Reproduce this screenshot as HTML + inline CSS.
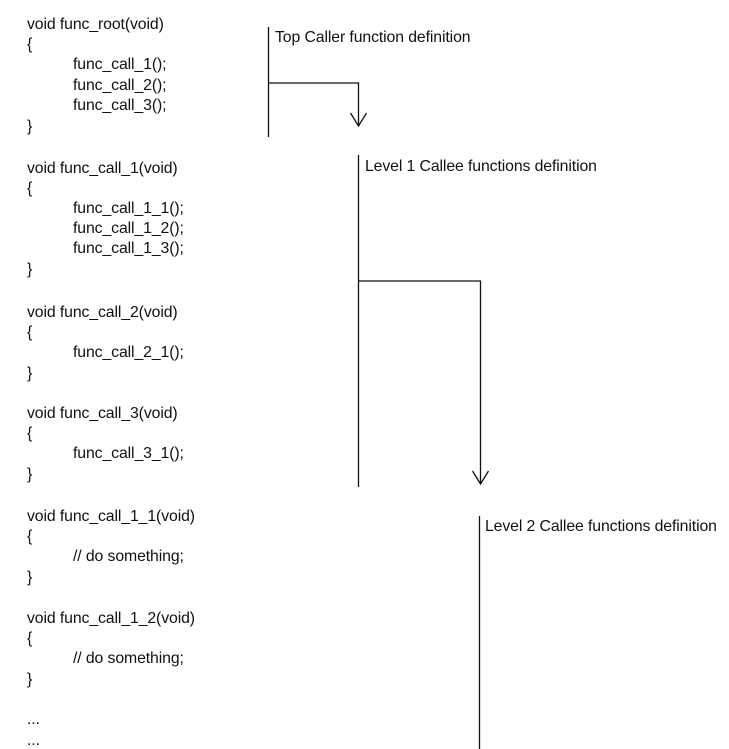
<!DOCTYPE html>
<html><head><style>
html,body{margin:0;padding:0;background:#fff;width:729px;height:749px;overflow:hidden}
.t{position:absolute;font-family:"Liberation Sans",sans-serif;font-size:15.8px;color:#111;white-space:pre;line-height:16px;letter-spacing:-0.1px}
svg{position:absolute;left:0;top:0}
</style></head><body>
<div class="t" style="left:27px;top:17px">void func_root(void)</div>
<div class="t" style="left:27px;top:37px">{</div>
<div class="t" style="left:73px;top:57px">func_call_1();</div>
<div class="t" style="left:73px;top:78px">func_call_2();</div>
<div class="t" style="left:73px;top:98px">func_call_3();</div>
<div class="t" style="left:27px;top:119px">}</div>

<div class="t" style="left:27px;top:161px">void func_call_1(void)</div>
<div class="t" style="left:27px;top:181px">{</div>
<div class="t" style="left:73px;top:201px">func_call_1_1();</div>
<div class="t" style="left:73px;top:221px">func_call_1_2();</div>
<div class="t" style="left:73px;top:241px">func_call_1_3();</div>
<div class="t" style="left:27px;top:262px">}</div>

<div class="t" style="left:27px;top:305px">void func_call_2(void)</div>
<div class="t" style="left:27px;top:325px">{</div>
<div class="t" style="left:73px;top:345px">func_call_2_1();</div>
<div class="t" style="left:27px;top:366px">}</div>

<div class="t" style="left:27px;top:406px">void func_call_3(void)</div>
<div class="t" style="left:27px;top:426px">{</div>
<div class="t" style="left:73px;top:446px">func_call_3_1();</div>
<div class="t" style="left:27px;top:467px">}</div>

<div class="t" style="left:27px;top:509px">void func_call_1_1(void)</div>
<div class="t" style="left:27px;top:529px">{</div>
<div class="t" style="left:73px;top:549px">// do something;</div>
<div class="t" style="left:27px;top:570px">}</div>

<div class="t" style="left:27px;top:611px">void func_call_1_2(void)</div>
<div class="t" style="left:27px;top:631px">{</div>
<div class="t" style="left:73px;top:651px">// do something;</div>
<div class="t" style="left:27px;top:672px">}</div>

<div class="t" style="left:27px;top:712px">...</div>
<div class="t" style="left:27px;top:733px">...</div>

<div class="t" style="left:275px;top:30px">Top Caller function definition</div>
<div class="t" style="left:365px;top:159px">Level 1 Callee functions definition</div>
<div class="t" style="left:485px;top:519px">Level 2 Callee functions definition</div>

<svg width="729" height="749" fill="none" stroke="#111" stroke-width="1.3">
<path d="M268.5 27V137M268.5 83H358.5V126M350.5 113L358.5 126L366.5 113"/>
<path d="M358.5 155V487M358.5 281H480.5V484M472.5 471L480.5 484L488.5 471"/>
<path d="M479.5 516V749"/>
</svg>
</body></html>
